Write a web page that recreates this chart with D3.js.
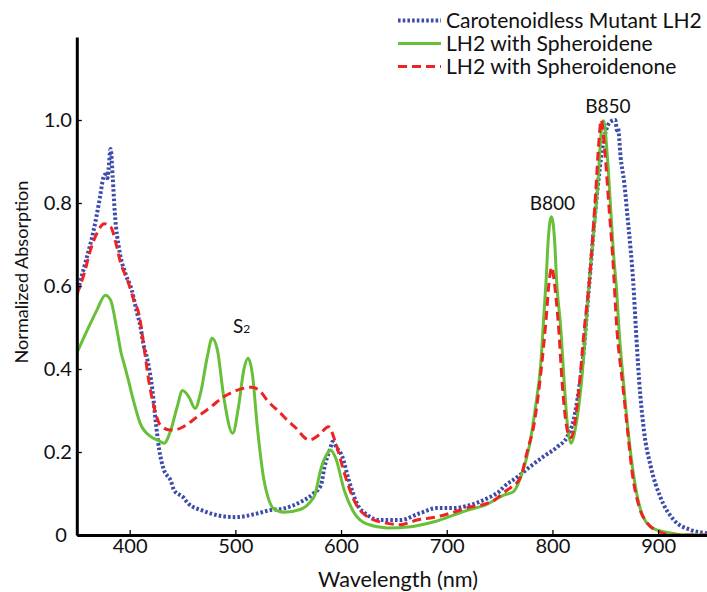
<!DOCTYPE html>
<html><head><meta charset="utf-8">
<script src="https://cdn.jsdelivr.net/npm/d3@7"></script>
<style>body{margin:0;background:#fff} svg{display:block}</style>
</head><body>
<script>
// ---------- DATA ----------
const seriesNames = ["Carotenoidless Mutant LH2", "LH2 with Spheroidene", "LH2 with Spheroidenone"];

const mutantNm  = [350,358,366,372,375,377,378,379,380,382,384,386,390,396,402,407,410,413,417,421.5,425,428,432,439,442,451,455,470,486,500,521,533,546,562,574,581,584,590,592,596,601,607,615,625,637,656,675,691,707,722,738,751,754,767,779,792,805,814,820,825,830,833,835,839,842.5,847,850,855,859.5,861,862,864.5,868,871,874,876.5,879,882,886.5,893,902,915,931,947,950];
const mutantVal = [0.58,0.655,0.735,0.815,0.86,0.87,0.875,0.86,0.88,0.93,0.86,0.775,0.69,0.63,0.59,0.535,0.505,0.46,0.42,0.35,0.265,0.205,0.16,0.13,0.108,0.09,0.077,0.058,0.046,0.043,0.052,0.06,0.064,0.08,0.10,0.12,0.16,0.21,0.225,0.21,0.19,0.135,0.076,0.048,0.036,0.036,0.053,0.065,0.065,0.072,0.088,0.108,0.116,0.14,0.165,0.19,0.213,0.237,0.277,0.35,0.454,0.55,0.61,0.735,0.83,0.928,0.968,0.996,1.0,0.975,0.98,0.91,0.847,0.767,0.687,0.607,0.494,0.373,0.253,0.165,0.092,0.036,0.012,0.004,0.003];

const speneNm  = [350,360,369,377,382,388,392,395,398,404,410,420,427,432.5,439,445,450,456,462,467,473.5,478,483,489,497.5,503,508,512,516,520.8,527,531,536,546,562,571,575,581,588,590,595,603,612,625,644,666,675,688,700,720,738,754,763,770,778,784,789,792,794,796,799,802,804,808,811,814,817.5,822,827,831.5,835,842.5,847,848.5,852,855,858,860.7,863,867,871.5,876.5,883.5,893,905,930,950];
const speneVal = [0.438,0.494,0.542,0.578,0.566,0.494,0.438,0.41,0.381,0.32,0.269,0.237,0.228,0.221,0.253,0.309,0.348,0.333,0.305,0.341,0.43,0.474,0.446,0.333,0.245,0.309,0.398,0.426,0.39,0.26,0.133,0.09,0.064,0.055,0.062,0.08,0.095,0.16,0.2,0.205,0.185,0.108,0.055,0.026,0.017,0.02,0.024,0.032,0.042,0.06,0.074,0.096,0.104,0.14,0.213,0.309,0.414,0.534,0.614,0.711,0.767,0.711,0.61,0.494,0.373,0.269,0.221,0.261,0.357,0.494,0.614,0.83,0.99,0.998,0.91,0.79,0.67,0.59,0.494,0.373,0.253,0.149,0.06,0.02,0.008,0.0,0.0];

const sononeNm  = [350,357,363,369,376,382,387,391.5,398,404,409,413.5,418,423,429,438,442,451,464,477,489,502,515,524,530,543,549,556,570,580,588,595,603,612,625,644,656,672,691,704,723,738,745,751,757,761,770,776,783,789,794,797,799.5,801.5,806,809,812.5,816,818,820.5,825,830,835,841,844,846,850,853.5,857,861,866,871,875.5,882,890,899,915,950];
const sononeVal = [0.58,0.63,0.687,0.727,0.75,0.743,0.703,0.655,0.614,0.566,0.53,0.454,0.373,0.309,0.265,0.253,0.253,0.261,0.285,0.309,0.333,0.349,0.356,0.345,0.325,0.293,0.277,0.261,0.229,0.243,0.261,0.221,0.15,0.085,0.044,0.028,0.025,0.036,0.044,0.053,0.068,0.076,0.084,0.096,0.108,0.115,0.14,0.2,0.273,0.39,0.52,0.614,0.645,0.614,0.494,0.373,0.277,0.237,0.235,0.261,0.35,0.494,0.614,0.83,0.95,1.0,0.91,0.79,0.67,0.494,0.373,0.253,0.149,0.068,0.028,0.01,0.0,0.0];

const xTickValues = [400,500,600,700,800,900];
const xTickLabels = ["400","500","600","700","800","900"];
const yTickValues = [0,0.2,0.4,0.6,0.8,1.0];
const yTickLabels = ["0","0.2","0.4","0.6","0.8","1.0"];

const annotations = [
  {text:"B850", nm:852.5, v:1.0},
  {text:"B800", nm:800, v:0.77}
];

// ---------- STYLE ----------
const FONT = "Lato, 'Open Sans', sans-serif";
const colors = ["#3d4caa", "#68bf38", "#ee2424"];
const dashes = ["2.6,2.1", null, "9,5"];
const widths = [4, 3, 3];

const W = 707, H = 592;
const svg = d3.select("body").append("svg").attr("width", W).attr("height", H)
  .style("font-family", FONT);

const x = d3.scaleLinear().domain([350, 950]).range([76.8, 711]);
const y = d3.scaleLinear().domain([0, 1.2]).range([535, 37]);

function fit(sel, target) {
  const w = sel.node().getComputedTextLength();
  const fs = parseFloat(sel.attr("font-size"));
  const nf = fs * target / w;
  sel.attr("font-size", nf);
  return nf;
}

// clip
svg.append("clipPath").attr("id", "clip").append("rect")
  .attr("x", 77).attr("y", 0).attr("width", W - 77).attr("height", 537);

const series = [
  {nm: mutantNm, v: mutantVal},
  {nm: speneNm, v: speneVal},
  {nm: sononeNm, v: sononeVal}
];

const line = d3.line().x(d => x(d[0])).y(d => y(d[1])).curve(d3.curveMonotoneX);
const g = svg.append("g").attr("clip-path", "url(#clip)");
series.forEach((s, i) => {
  const pts = s.nm.map((n, k) => [n, s.v[k]]);
  g.append("path").datum(pts).attr("d", line)
    .attr("fill", "none").attr("stroke", colors[i])
    .attr("stroke-width", widths[i])
    .attr("stroke-dasharray", dashes[i])
    .attr("stroke-linejoin", "round");
});

// axes
const xAxis = d3.axisBottom(x).tickValues(xTickValues)
  .tickFormat((d, i) => xTickLabels[i]).tickSize(-5).tickSizeOuter(0).tickPadding(4);
const gx = svg.append("g").attr("transform", "translate(0,535)").call(xAxis);
gx.select(".domain").attr("stroke", "#000").attr("stroke-width", 3);
gx.selectAll(".tick line").attr("stroke", "#000").attr("stroke-width", 1.3);
gx.selectAll(".tick text").attr("font-family", FONT).attr("font-size", 20).attr("fill", "#111");

const yAxis = d3.axisLeft(y).tickValues(yTickValues)
  .tickFormat((d, i) => yTickLabels[i]).tickSize(-5).tickSizeOuter(0).tickPadding(5);
const gy = svg.append("g").attr("transform", "translate(76.8,0)").call(yAxis);
gy.select(".domain").attr("stroke", "#000").attr("stroke-width", 3);
gy.selectAll(".tick line").attr("stroke", "#000").attr("stroke-width", 1.3);
gy.selectAll(".tick text").attr("font-family", FONT).attr("font-size", 20).attr("fill", "#111");
gy.selectAll(".tick text").filter(d => d === 0).attr("dx", -5);

// fit tick font size
const t400 = gx.selectAll(".tick text").filter(d => d === 400);
const tfs = fit(t400, 35);
gx.selectAll(".tick text").attr("font-size", tfs);
gy.selectAll(".tick text").attr("font-size", tfs);

// axis titles
const xt = svg.append("text").attr("x", 398).attr("y", 587).attr("text-anchor", "middle")
  .attr("font-size", 18).attr("fill", "#111").text("Wavelength (nm)");
fit(xt, 160);
const yt = svg.append("text").attr("transform", "translate(28,272) rotate(-90)")
  .attr("text-anchor", "middle").attr("font-size", 18).attr("fill", "#111").text("Normalized Absorption");
fit(yt, 183);

// legend
const legRowsY = [20.5, 43.5, 66.5];
let legFs = null;
seriesNames.forEach((name, i) => {
  const lg = svg.append("g");
  lg.append("line").attr("x1", 398).attr("x2", 441)
    .attr("y1", legRowsY[i]).attr("y2", legRowsY[i])
    .attr("stroke", colors[i]).attr("stroke-width", widths[i])
    .attr("stroke-dasharray", dashes[i]);
  const t = lg.append("text").attr("x", 446).attr("y", legRowsY[i] + 7)
    .attr("font-size", 20).attr("fill", "#111").text(name);
  if (i === 0) legFs = fit(t, 256); else t.attr("font-size", legFs);
});

// annotations
annotations.forEach(a => {
  const t = svg.append("text").attr("x", x(a.nm)).attr("y", y(a.v) - (a.text === "B850" ? 7 : 5))
    .attr("text-anchor", "middle").attr("font-size", 20).attr("fill", "#111").text(a.text);
  fit(t, 45.5);
});
const s2 = svg.append("text").attr("x", 233).attr("y", 333).attr("fill", "#111").attr("font-size", 19);
s2.append("tspan").text("S");
s2.append("tspan").attr("font-size", 12).text("2");
</script>
</body></html>
